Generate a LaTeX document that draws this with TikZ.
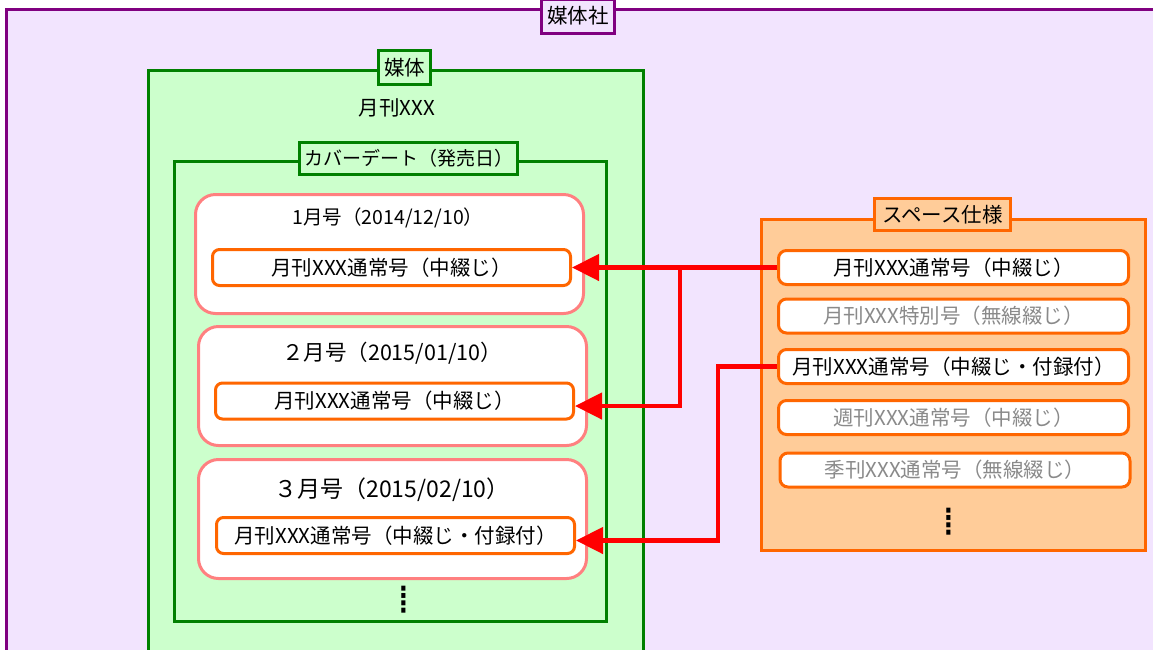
\documentclass[tikz,border=0pt]{standalone}
\usepackage{fontspec}
\setmainfont{Noto Sans CJK JP}
\newfontfamily\dotsfont{DejaVu Sans}
\usetikzlibrary{arrows.meta,positioning}

\definecolor{companyline}{HTML}{800080}
\definecolor{companyfill}{HTML}{F2E4FE}
\definecolor{mediumline}{HTML}{008000}
\definecolor{mediumfill}{HTML}{CCFFCC}
\definecolor{issueline}{HTML}{FF8080}
\definecolor{specline}{HTML}{FF6600}
\definecolor{specfill}{HTML}{FFCC99}
\definecolor{unusedtext}{HTML}{8A8A8A}

\tikzset{
  tag/.style={draw, line width=3pt, inner sep=0pt, font=\fontsize{20.5}{20.5}\selectfont},
  issue/.style={draw=issueline, fill=white, line width=3pt, rounded corners=20pt,
    minimum width=388pt, minimum height=119pt},
  slot/.style={draw=specline, fill=white, line width=3pt, rounded corners=7pt, inner sep=0pt,
    minimum width=358pt, minimum height=36pt, font=\fontsize{20.5}{20.5}\selectfont},
  item/.style={slot, rounded corners=8pt, minimum width=350pt, minimum height=34pt},
  link/.style={->, draw=red, line width=4.5pt},
  more/.style={font=\dotsfont\fontsize{40}{40}\selectfont, inner sep=0pt}
}

\begin{document}
\begin{tikzpicture}[x=1pt, y=-1pt, >={Triangle[length=27pt,width=26pt]}]
\useasboundingbox (0,0) rectangle (1153,649);
\clip (0,0) rectangle (1153,649);

% Draw the company frame
\draw[draw=companyline, fill=companyfill, line width=3pt] (6.5,9.5) rectangle (1180,680);
\node[tag, draw=companyline, fill=companyfill, minimum width=73pt, minimum height=34pt] (company) at (578,16) {媒体社};

% Draw the medium frame
\draw[draw=mediumline, fill=mediumfill, line width=3pt] (148.5,70.5) rectangle (643.5,680);
\node[tag, draw=mediumline, fill=mediumfill, minimum width=52pt, minimum height=34pt] (medium) at (404.5,67.5) {媒体};
\node[font=\fontsize{20.5}{20.5}\selectfont] (title) at (397,108) {月刊XXX};

% Draw the cover date frame
\draw[draw=mediumline, line width=3pt] (174.5,161.5) rectangle (606.5,621.5);
\node[tag, draw=mediumline, fill=mediumfill, minimum width=218pt, minimum height=32pt,
  font=\fontsize{19}{19}\selectfont] (cover) at (408.5,158.5) {カバーデート（発売日）};

% Draw the issues
\node[issue] (n1) at (389.5,254) {};
\node[issue] (n2) at (392.5,386) {};
\node[issue] (n3) at (392.5,519) {};
\node[font=\fontsize{19.5}{19.5}\selectfont] (d1) at (388,218) {1月号（2014/12/10）};
\node[font=\fontsize{21.5}{21.5}\selectfont] (d2) at (392,353) {２月号（2015/01/10）};
\node[font=\fontsize{23}{23}\selectfont] (d3) at (392,490) {３月号（2015/02/10）};
\node[slot] (b1) at (391.5,267.5) {月刊XXX通常号（中綴じ）};
\node[slot] (b2) at (394.5,401) {月刊XXX通常号（中綴じ）};
\node[slot] (b3) at (395.5,535.5) {月刊XXX通常号（中綴じ・付録付）};
\node[more] (nmore) at (404,600) {⁞};

% Draw the space specs
\draw[draw=specline, fill=specfill, line width=3pt] (761.5,219.5) rectangle (1145.5,550.5);
\node[tag, draw=specline, fill=specfill, minimum width=136pt, minimum height=32pt] (spec) at (942.5,214.5) {スペース仕様};
\foreach \n/\x/\y/\c/\t in {i1/953.5/267.5/black/月刊XXX通常号（中綴じ）,
    i2/953.5/316/unusedtext/月刊XXX特別号（無線綴じ）,
    i3/953.5/366.5/black/月刊XXX通常号（中綴じ・付録付）,
    i4/953.5/417.5/unusedtext/週刊XXX通常号（中綴じ）,
    i5/955/470/unusedtext/季刊XXX通常号（無線綴じ）}
{
  \node[item, text=\c] (\n) at (\x,\y) {\t};
}
\node[more] (imore) at (949,522) {⁞};

% Draw the links
\coordinate (fork) at (680,267.5);
\coordinate (bend) at (718,366.5);
\draw[link] (i1.west) -- (b1.east);
\draw[link] (fork) |- ([yshift=-5pt]b2.east);
\draw[link] (i3.west) -- (bend) |- ([yshift=-5pt]b3.east);

\end{tikzpicture}
\end{document}
